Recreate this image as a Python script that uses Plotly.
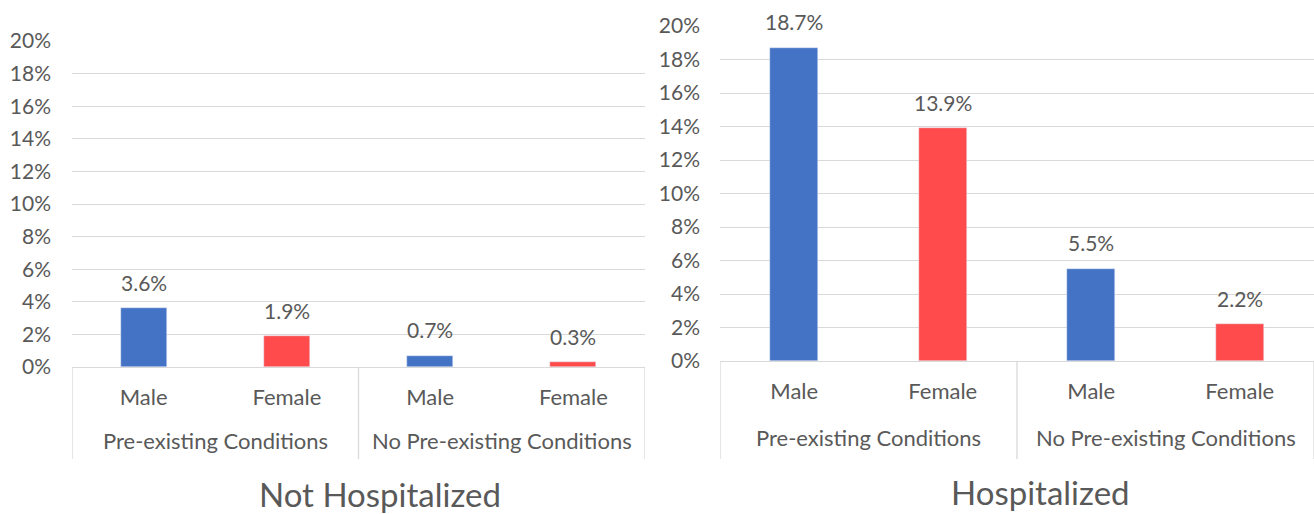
import plotly.graph_objects as go

# ---- data ----
sexes = ["Male", "Female", "Male", "Female"]
groups = ["Pre-existing Conditions", "No Pre-existing Conditions"]
not_hosp = [3.6, 1.9, 0.7, 0.3]
hosp = [18.7, 13.9, 5.5, 2.2]
bar_colors = ["#4472C4", "#FF4B4B", "#4472C4", "#FF4B4B"]
panel_titles = ["Not Hospitalized", "Hospitalized"]
y_ticks = [0, 2, 4, 6, 8, 10, 12, 14, 16, 18, 20]

W, H = 1314, 514
FONT = "Lato"
TXT = "#595959"
GRID = "#D9D9D9"
FS_NUM = 21
FS_WORD = 22

def px_x(p):
    return p / W

def px_y(p):
    return 1 - p / H

panels = [
    dict(vals=not_hosp, xd=[72, 645], yd=[367, 41], xa="x", ya="y", title_y=494, stand=20, tshift=21, gl=73),
    dict(vals=hosp, xd=[720, 1314], yd=[361, 26], xa="x2", ya="y2", title_y=492, stand=19, tshift=23, gl=76),
]

fig = go.Figure()
xpos = list(range(len(sexes)))

for i, p in enumerate(panels):
    fig.add_trace(go.Bar(
        x=xpos, y=p["vals"], marker_color=bar_colors, width=0.32,
        xaxis=p["xa"], yaxis=p["ya"], showlegend=False, hoverinfo="skip",
    ))
    for xv, v in zip(xpos, p["vals"]):
        fig.add_annotation(x=xv, y=v, xref=p["xa"], yref=p["ya"], text=f"{v:.1f}%",
                           showarrow=False, yanchor="middle", yshift=26,
                           font=dict(family=FONT, size=FS_NUM, color=TXT))
    # group labels
    for gi, g in enumerate(groups):
        fig.add_annotation(x=gi * 2 + 0.5, y=px_y(p["yd"][0] + p["gl"]), xref=p["xa"], yref="paper",
                           text=g, showarrow=False, yanchor="middle",
                           font=dict(family=FONT, size=FS_WORD, color=TXT))
    # dividers
    for xv in [-0.5, 1.5, 3.5]:
        fig.add_shape(type="line", x0=xv, x1=xv, xref=p["xa"], yref="paper",
                      y0=px_y(p["yd"][0]), y1=px_y(459),
                      line=dict(color=GRID, width=1.3))
    # title
    fig.add_annotation(x=1.5, y=px_y(p["title_y"]), xref=p["xa"], yref="paper",
                       text=panel_titles[i], showarrow=False, yanchor="middle",
                       xshift=p["tshift"],
                       font=dict(family=FONT, size=33, color=TXT))

    xkey = "xaxis" if i == 0 else "xaxis2"
    ykey = "yaxis" if i == 0 else "yaxis2"
    fig.update_layout(**{
        xkey: dict(domain=[px_x(p["xd"][0]), px_x(p["xd"][1])], range=[-0.5, 3.5],
                   tickvals=xpos, ticktext=sexes, anchor=p["ya"], showgrid=False,
                   zeroline=False, showline=True, linecolor=GRID, linewidth=1.3,
                   automargin=False,
                   ticklabelstandoff=10, tickfont=dict(family=FONT, size=FS_WORD, color=TXT),
                   fixedrange=True),
        ykey: dict(domain=[px_y(p["yd"][0]), px_y(p["yd"][1])], range=[0, 20],
                   tickvals=y_ticks, ticktext=[f"{t}%" for t in y_ticks],
                   anchor=p["xa"], showgrid=True, gridcolor=GRID, gridwidth=1.3,
                   zeroline=False, showline=False, automargin=False,
                   ticklabelstandoff=p["stand"], tickfont=dict(family=FONT, size=FS_NUM, color=TXT),
                   fixedrange=True),
    })

fig.update_layout(
    width=W, height=H, margin=dict(l=0, r=0, t=0, b=0, autoexpand=False),
    paper_bgcolor="white", plot_bgcolor="white", bargap=0,
)
fig.write_html("out.html", config={"displayModeBar": False},
               post_script="document.body.style.margin='0';document.body.style.overflow='hidden';")
